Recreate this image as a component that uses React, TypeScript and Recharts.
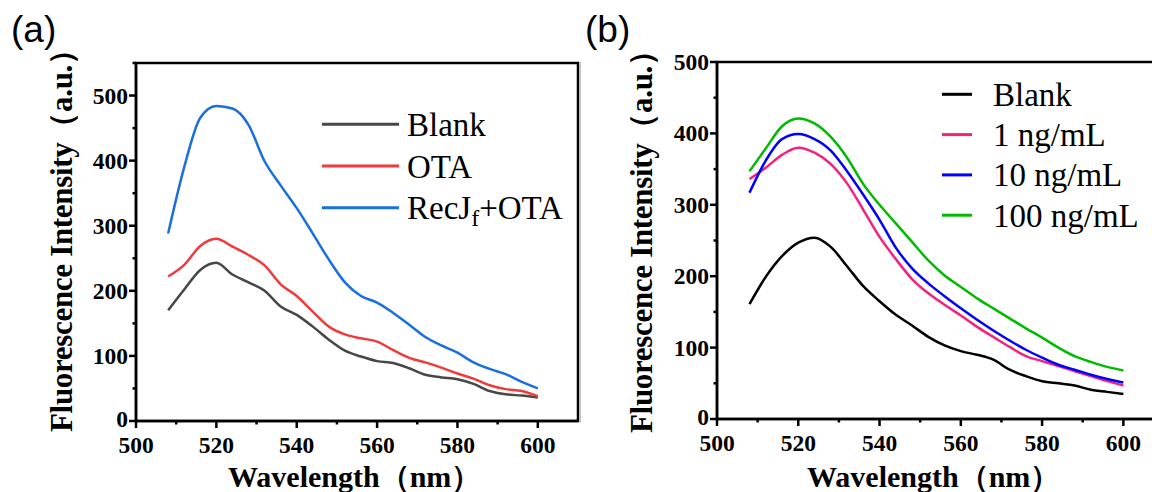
import React from 'react'
import { LineChart, Line, XAxis, YAxis, ReferenceArea } from 'recharts'

// emission wavelengths (nm), shared by every curve
const wavelength = [
  508, 512, 516, 520, 524, 528, 532, 536, 540, 544, 548, 552,
  556, 560, 564, 568, 572, 576, 580, 584, 588, 592, 596, 600,
]

// panel (a)
const blankA = [170, 202, 232, 243, 225, 213, 200, 176, 163, 145, 125, 108, 99, 92, 89, 81, 71, 67, 64, 57, 46, 41, 39, 36]
const otaA = [222, 240, 269, 280, 268, 255, 239, 210, 192, 168, 145, 133, 127, 122, 109, 97, 90, 82, 73, 65, 55, 49, 46, 38]
const recjOtaA = [288, 390, 466, 484, 480, 455, 399, 362, 327, 288, 248, 213, 192, 182, 166, 148, 129, 116, 105, 90, 80, 72, 60, 50]

// panel (b)
const blankB = [161, 199, 228, 247, 254, 241, 214, 186, 165, 146, 131, 115, 103, 95, 90, 83, 69, 60, 53, 50, 47, 41, 38, 35]
const ng1 = [336, 352, 370, 380, 373, 357, 330, 293, 255, 224, 196, 176, 160, 145, 129, 115, 101, 88, 81, 74, 67, 60, 53, 47]
const ng10 = [317, 362, 392, 399, 392, 376, 347, 314, 279, 240, 211, 190, 172, 155, 139, 124, 110, 97, 86, 76, 69, 62, 56, 51]
const ng100 = [347, 379, 410, 421, 414, 395, 366, 329, 300, 274, 248, 222, 201, 185, 169, 155, 141, 127, 114, 100, 88, 80, 73, 68]

const xTicks = [500, 510, 520, 530, 540, 550, 560, 570, 580, 590, 600]
const yTicksA = [0, 50, 100, 150, 200, 250, 300, 350, 400, 450, 500, 550]
const yTicksB = [0, 50, 100, 150, 200, 250, 300, 350, 400, 450, 500]

const seriesA = [
  { key: 'blank', name: 'Blank', color: '#474747', values: blankA },
  { key: 'ota', name: 'OTA', color: '#ef3b3b', values: otaA },
  { key: 'recj', name: 'RecJf+OTA', color: '#1a6fdf', values: recjOtaA },
]

const seriesB = [
  { key: 'blank', name: 'Blank', color: '#000000', values: blankB },
  { key: 'ng1', name: '1 ng/mL', color: '#f5207f', values: ng1 },
  { key: 'ng10', name: '10 ng/mL', color: '#0000ff', values: ng10 },
  { key: 'ng100', name: '100 ng/mL', color: '#00bb00', values: ng100 },
]

const toRows = (series: { key: string; values: number[] }[]) =>
  wavelength.map((w, i) => {
    const row: { [k: string]: number } = { w }
    series.forEach(s => {
      row[s.key] = s.values[i]
    })
    return row
  })

const SERIF = '"Liberation Serif", "Times New Roman", serif'
const SANS = '"Liberation Sans", Arial, sans-serif'

const XTick = (props: any) => {
  const { x, y, payload } = props
  const v = payload.value
  const major = v % 20 === 0
  return (
    <g>
      <line x1={x} x2={x} y1={y} y2={y + (major ? 7 : 3.5)} stroke="#000" strokeWidth={2.5} />
      {major && (
        <text x={x} y={y + 32} textAnchor="middle" fontFamily={SERIF} fontWeight="bold" fontSize={23.5} fill="#000">
          {v}
        </text>
      )}
    </g>
  )
}

const YTick = (props: any) => {
  const { x, y, payload } = props
  const v = payload.value
  const major = v % 100 === 0
  return (
    <g>
      <line x1={x} x2={x - (major ? 7 : 3.5)} y1={y} y2={y} stroke="#000" strokeWidth={2.5} />
      {major && (
        <text x={x - 8} y={y + (v === 0 ? 6 : 8)} textAnchor="end" fontFamily={SERIF} fontWeight="bold" fontSize={23.5} fill="#000">
          {v}
        </text>
      )}
    </g>
  )
}

interface PanelProps {
  series: { key: string; name: string; color: string; values: number[] }[]
  width: number
  margin: { top: number; right: number; bottom: number; left: number }
  yMax: number
  yTicks: number[]
}

function Panel({ series, width, margin, yMax, yTicks }: PanelProps) {
  const data = toRows(series)
  return (
    <LineChart width={width} height={492} data={data} margin={margin}>
      <ReferenceArea x1={500} x2={610} y1={0} y2={yMax} fill="none" stroke="#000" strokeWidth={2.5} />
      <XAxis
        dataKey="w"
        type="number"
        domain={[500, 610]}
        ticks={xTicks}
        interval={0}
        height={40}
        tickSize={0}
        tickMargin={0}
        tickLine={false}
        axisLine={{ stroke: '#000', strokeWidth: 2.5 }}
        tick={(p: any) => <XTick {...p} />}
      />
      <YAxis
        type="number"
        domain={[0, yMax]}
        ticks={yTicks}
        interval={0}
        width={60}
        tickSize={0}
        tickMargin={0}
        tickLine={false}
        axisLine={{ stroke: '#000', strokeWidth: 2.5 }}
        tick={(p: any) => <YTick {...p} />}
      />
      {series.map(s => (
        <Line
          key={s.key}
          type="monotone"
          dataKey={s.key}
          name={s.name}
          stroke={s.color}
          strokeWidth={2.5}
          dot={false}
          isAnimationActive={false}
        />
      ))}
    </LineChart>
  )
}

export default function App() {
  const yTitle = 'Fluorescence Intensity（a.u.）'
  const xTitle = 'Wavelength（nm）'
  return (
    <div
      style={{
        position: 'absolute',
        left: 0,
        top: 0,
        width: 1152,
        height: 492,
        overflow: 'hidden',
        background: '#fff',
      }}
    >
      <div style={{ position: 'absolute', left: 0, top: 0 }}>
        <Panel
          series={seriesA}
          width={600}
          margin={{ top: 63, right: 22, bottom: 31, left: 76 }}
          yMax={550}
          yTicks={yTicksA}
        />
      </div>
      <div style={{ position: 'absolute', left: 580, top: 0 }}>
        <Panel
          series={seriesB}
          width={620}
          margin={{ top: 62, right: 36, bottom: 33, left: 77 }}
          yMax={500}
          yTicks={yTicksB}
        />
      </div>
      <svg
        width={1152}
        height={492}
        style={{ position: 'absolute', left: 0, top: 0, pointerEvents: 'none' }}
      >
        <line x1={580.5} x2={580.5} y1={62} y2={423} stroke="#c4c4c4" strokeWidth={1} />
        <text x={11} y={42} fontFamily={SANS} fontSize={37} fill="#000">(a)</text>
        <text x={585} y={42} fontFamily={SANS} fontSize={37} fill="#000">(b)</text>

        <text
          transform="translate(72,432) rotate(-90)"
          fontFamily={SERIF}
          fontWeight="bold"
          fontSize={31}
          textLength={398}
          lengthAdjust="spacing"
          fill="#000"
        >
          {yTitle}
        </text>
        <text
          transform="translate(652,433) rotate(-90)"
          fontFamily={SERIF}
          fontWeight="bold"
          fontSize={31}
          textLength={398}
          lengthAdjust="spacing"
          fill="#000"
        >
          {yTitle}
        </text>
        <text x={228} y={487} fontFamily={SERIF} fontWeight="bold" fontSize={30} fill="#000">{xTitle}</text>
        <text x={807} y={487} fontFamily={SERIF} fontWeight="bold" fontSize={30} fill="#000">{xTitle}</text>

        {seriesA.map((s, i) => {
          const ly = 124.3 + i * 41.7
          return (
            <g key={s.key}>
              <line x1={322} x2={399} y1={ly} y2={ly} stroke={s.color} strokeWidth={3} />
              {s.key === 'recj' ? (
                <text x={407} y={ly + 11.5} fontFamily={SERIF} fontSize={33} fill="#000">
                  RecJ
                  <tspan fontSize={24} dy={7}>f</tspan>
                  <tspan dy={-7}>+OTA</tspan>
                </text>
              ) : (
                <text x={407} y={ly + 11.5} fontFamily={SERIF} fontSize={33} fill="#000">{s.name}</text>
              )}
            </g>
          )
        })}

        {seriesB.map((s, i) => {
          const ly = 94.3 + i * 40.3
          return (
            <g key={s.key}>
              <line x1={942} x2={972} y1={ly} y2={ly} stroke={s.color} strokeWidth={3} />
              <text x={993} y={ly + 11.5} fontFamily={SERIF} fontSize={33} fill="#000">{s.name}</text>
            </g>
          )
        })}
      </svg>
    </div>
  )
}
